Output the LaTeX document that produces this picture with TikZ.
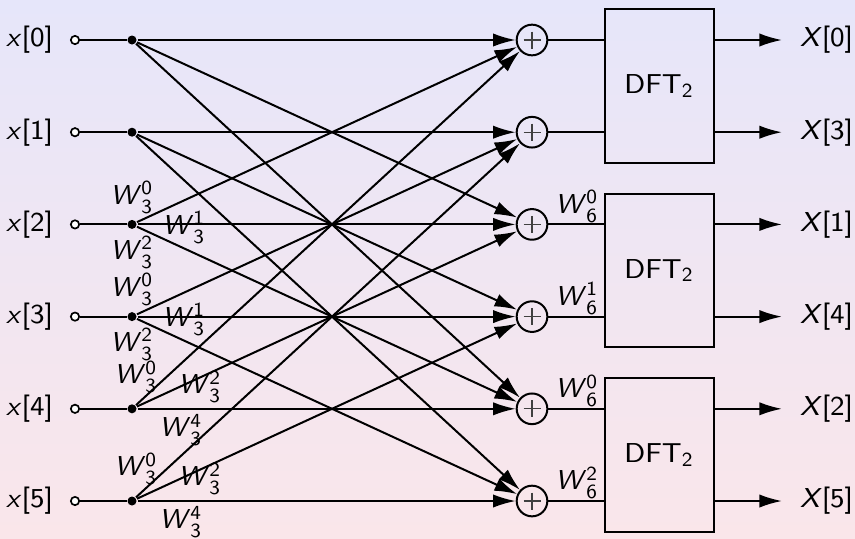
\documentclass[tikz,border=0pt]{standalone}
\usetikzlibrary{arrows.meta,calc}
\definecolor{bgtop}{RGB}{230,230,250}
\definecolor{bgbot}{RGB}{250,230,234}
\newcommand\Wl[2]{\textit{W}$^{\mathsf{#2}}_{\mathsf{#1}}$}
\begin{document}
\begin{tikzpicture}[x=0.3pt,y=-0.3pt,
  font=\sffamily\fontsize{8.2}{9.8}\selectfont,
  line width=0.6pt,
  lab/.style={inner sep=0pt},
  wlab/.style={inner sep=0pt},
  opendot/.style={circle,draw,fill=white,minimum size=2.5pt,inner sep=0pt,line width=0.5pt},
  blackdot/.style={circle,fill=black,minimum size=2.7pt,inner sep=0pt},
  adder/.style={circle,draw,minimum size=9.2pt,inner sep=0pt,
    path picture={\draw[line width=0.35pt,black!75]
      ($(path picture bounding box.center)+(-8.5,0)$) -- ($(path picture bounding box.center)+(8.5,0)$)
      ($(path picture bounding box.center)+(0,-8.5)$) -- ($(path picture bounding box.center)+(0,8.5)$);}},
  dftbox/.style={draw,minimum width=32.55pt,minimum height=46.05pt,inner sep=0pt},
  arr/.style={-{Latex[length=6.8pt,width=4pt]}}
]
\shade[top color=bgtop,bottom color=bgbot] (0,0) rectangle (855,538);
\useasboundingbox (0,0) rectangle (855,538);

\foreach \i in {0,...,5} {
  \pgfmathsetmacro\yy{40+92.2*\i}
  \node[lab,anchor=east] (xl\i) at (54,\yy) {\textit{x}[\i]};
  \node[opendot] (o\i) at (75,\yy) {};
  \node[blackdot] (d\i) at (132,\yy) {};
  \node[adder] (a\i) at (532,\yy) {};
  \draw (o\i) -- (d\i);
}

\foreach \s/\t in {0/0,0/2,0/4,1/1,1/3,1/5,2/0,2/2,2/4,3/1,3/3,3/5,4/0,4/2,4/4,5/1,5/3,5/5}
  \draw[arr] (d\s) -- (a\t);

\node[dftbox] (b0) at (659.25,86.1) {DFT$_{\mathsf{2}}$};
\node[dftbox] (b1) at (659.25,270.5) {DFT$_{\mathsf{2}}$};
\node[dftbox] (b2) at (659.25,454.9) {DFT$_{\mathsf{2}}$};

\foreach \k/\b/\X in {0/0/0,1/0/3,2/1/1,3/1/4,4/2/2,5/2/5} {
  \draw (a\k) -- (b\b.west |- a\k);
  \coordinate (e\k) at ($(a\k)+(250,0)$);
  \draw[arr] (b\b.east |- a\k) -- (e\k);
  \node[lab,anchor=west] (X\k) at ($(a\k)+(267,0)$) {\textit{X}[\X]};
}

% twiddle labels, first stage
\node[wlab] (w20) at ($(d2)+(0,-27)$) {\Wl{3}{0}};
\node[wlab] (w21) at ($(d2)+(52,3)$) {\Wl{3}{1}};
\node[wlab] (w22) at ($(d2)+(0,28)$) {\Wl{3}{2}};
\node[wlab] (w30) at ($(d3)+(0,-27)$) {\Wl{3}{0}};
\node[wlab] (w31) at ($(d3)+(52,3)$) {\Wl{3}{1}};
\node[wlab] (w32) at ($(d3)+(0,28)$) {\Wl{3}{2}};
\node[wlab] (w40) at ($(d4)+(4,-32)$) {\Wl{3}{0}};
\node[wlab] (w42) at ($(d4)+(68,-22)$) {\Wl{3}{2}};
\node[wlab] (w44) at ($(d4)+(49,21)$) {\Wl{3}{4}};
\node[wlab] (w50) at ($(d5)+(4,-32)$) {\Wl{3}{0}};
\node[wlab] (w52) at ($(d5)+(68,-22)$) {\Wl{3}{2}};
\node[wlab] (w54) at ($(d5)+(49,21)$) {\Wl{3}{4}};

% twiddle labels, second stage
\node[wlab] (v2) at ($(a2)+(45,-18)$) {\Wl{6}{0}};
\node[wlab] (v3) at ($(a3)+(45,-18)$) {\Wl{6}{1}};
\node[wlab] (v4) at ($(a4)+(45,-18)$) {\Wl{6}{0}};
\node[wlab] (v5) at ($(a5)+(45,-18)$) {\Wl{6}{2}};
\end{tikzpicture}
\end{document}
